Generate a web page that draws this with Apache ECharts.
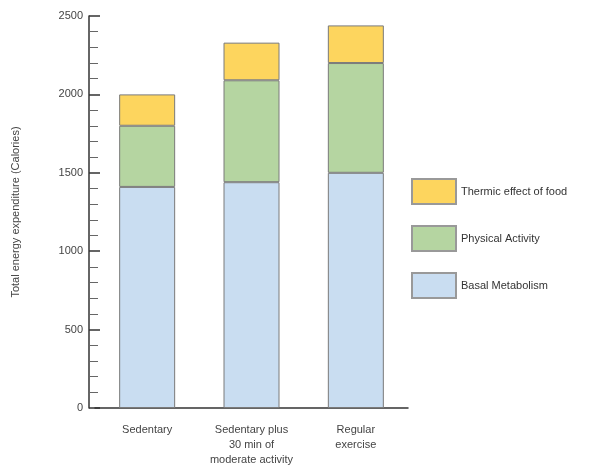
<!DOCTYPE html>
<html style="height: 100%">
<head>
<meta charset="utf-8">
<script type="text/javascript" src="https://cdn.jsdelivr.net/npm/echarts/dist/echarts.min.js"></script>
</head>
<body style="height: 100%; margin: 0; background: #fff">
<div id="container" style="width: 591px; height: 469px"></div>
<script type="text/javascript">
// categories and stacked values (Calories)
var categories = ['Sedentary', 'Sedentary plus\n30 min of\nmoderate activity', 'Regular\nexercise'];
var basal = [1410, 1440, 1500];
var physical = [390, 650, 700];
var thermic = [200, 240, 240];

var font = 'Liberation Sans';
var myChart = echarts.init(document.getElementById('container'));

function barSeries(name, data, color) {
    return {
        name: name,
        type: 'bar',
        stack: 'total',
        data: data,
        barWidth: 56,
        itemStyle: { color: color, borderColor: '#7a7a7a', borderWidth: 1 }
    };
}

var option = {
    animation: false,
    textStyle: { fontFamily: font },
    grid: { left: 95, right: 183, top: 16, bottom: 61 },
    legend: {
        orient: 'vertical',
        left: 411,
        top: 178,
        padding: 0,
        itemWidth: 44,
        itemHeight: 25,
        itemGap: 20,
        icon: 'rect',
        data: ['Thermic effect of food', 'Physical Activity', 'Basal Metabolism'],
        itemStyle: { borderColor: '#999' },
        textStyle: { fontSize: 11, color: '#333', fontFamily: font }
    },
    xAxis: {
        type: 'category',
        data: categories,
        axisLine: { lineStyle: { color: '#333', width: 1.5 } },
        axisTick: { show: false },
        axisLabel: { color: '#444', fontSize: 11, lineHeight: 15, margin: 14, fontFamily: font, interval: 0 }
    },
    yAxis: {
        type: 'value',
        min: 0,
        max: 2500,
        interval: 500,
        offset: 6,
        name: 'Total energy expenditure (Calories)',
        nameLocation: 'middle',
        nameGap: 68,
        nameTextStyle: { color: '#444', fontSize: 11, fontFamily: font },
        axisLine: { show: true, lineStyle: { color: '#333', width: 1.5 } },
        axisTick: { show: true, inside: true, length: 11, lineStyle: { color: '#333', width: 1.5 } },
        minorTick: { show: true, splitNumber: 5, length: 9, lineStyle: { color: '#666' } },
        axisLabel: {
            color: '#444', fontSize: 11, margin: 6, fontFamily: font,
            formatter: function (v) { return String(v); }
        },
        splitLine: { show: false }
    },
    series: [
        barSeries('Basal Metabolism', basal, '#c9ddf1'),
        barSeries('Physical Activity', physical, '#b5d5a1'),
        barSeries('Thermic effect of food', thermic, '#fdd55e')
    ]
};
myChart.setOption(option);
</script>
</body>
</html>
